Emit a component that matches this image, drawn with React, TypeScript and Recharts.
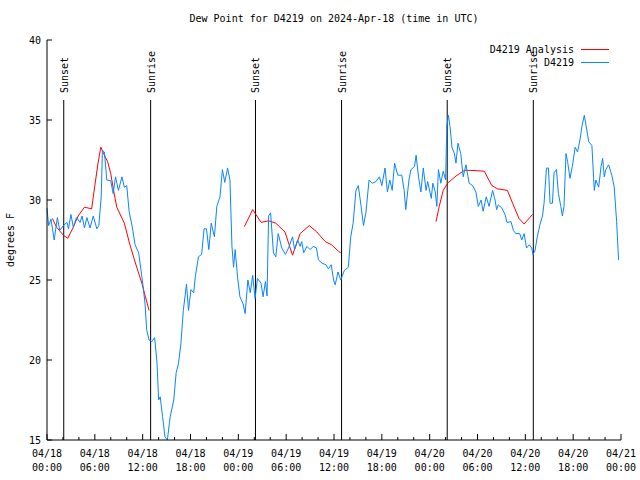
import React from 'react';
import { LineChart, Line, XAxis, YAxis, ReferenceLine } from 'recharts';

const FONT = '"DejaVu Sans Mono", "Liberation Mono", monospace';

// hours after 2024-04-18 00:00 UTC
const obsHours = [
  0, 0.2, 0.5, 0.9, 1.3, 1.6, 2.05, 2.5, 2.7, 3, 3.3, 3.7, 4.15, 4.4, 4.7, 5, 5.4, 5.8, 6.25, 6.5,
  6.8, 6.95, 7.2, 7.5, 8, 8.3, 8.6, 8.96, 9.4, 9.7, 10, 10.3, 10.7, 11.05, 11.5, 11.9, 12.1, 12.3, 12.5, 12.8,
  13.15, 13.5, 13.8, 14, 14.2, 14.5, 14.8, 15.1, 15.45, 15.9, 16.2, 16.5, 16.8, 17.1, 17.5, 17.75, 18.05, 18.4, 18.6, 19,
  19.4, 19.7, 20, 20.3, 20.6, 21, 21.3, 21.7, 22, 22.3, 22.65, 22.95, 23.2, 23.4, 23.6, 23.9, 24.2, 24.6, 24.85, 25.2,
  25.5, 25.8, 26.1, 26.4, 26.85, 27.1, 27.4, 27.6, 27.8, 28.05, 28.4, 28.7, 29, 29.45, 29.9, 30.3, 30.8, 31.05, 31.45, 31.75,
  31.95, 32.2, 32.6, 33, 33.4, 33.8, 34.05, 34.5, 35, 35.3, 35.65, 35.95, 36.15, 36.5, 36.85, 37.3, 37.8, 38.1, 38.4, 38.75,
  39.05, 39.4, 39.7, 40, 40.4, 40.8, 41.25, 41.7, 42, 42.4, 42.7, 43, 43.3, 43.6, 44, 44.5, 44.8, 45, 45.4, 45.65,
  46.1, 46.3, 46.6, 46.9, 47.2, 47.55, 47.75, 48.2, 48.4, 48.7, 48.9, 49.1, 49.4, 49.7, 50, 50.15, 50.35, 50.55, 50.8, 51.1,
  51.3, 51.55, 51.9, 52.2, 52.55, 52.95, 53.4, 53.8, 54.1, 54.45, 54.7, 55.1, 55.45, 55.9, 56.2, 56.4, 56.6, 57.05, 57.45, 57.7,
  58.2, 58.5, 58.8, 59.3, 59.55, 59.85, 60.15, 60.5, 60.8, 60.95, 61.2, 61.5, 61.8, 62.15, 62.35, 62.65, 62.9, 63.1, 63.4, 63.6,
  63.9, 64.15, 64.45, 64.65, 64.85, 65.1, 65.3, 65.6, 65.9, 66.25, 66.55, 66.85, 67.1, 67.4, 67.6, 67.95, 68.35, 68.65, 68.85, 69.2,
  69.5, 69.7, 69.9, 70.1, 70.45, 70.85, 71.15, 71.45, 71.7,
];
const obsDewPoint = [
  29.5, 28.4, 28.8, 27.5, 28.9, 28.1, 28.4, 28.6, 28.2, 29.1, 28.3, 28.9, 28.6, 29.0, 28.25, 28.9, 28.25, 29.0, 28.2, 28.4,
  30.2, 33.1, 33.0, 31.25, 31.2, 30.4, 31.45, 30.6, 31.45, 30.8, 30.9, 29.3, 28.3, 27.2, 26.7, 25.2, 24.4, 23.5, 21.9, 21.25,
  21.15, 21.4, 19.8, 17.5, 17.7, 16.45, 15.2, 15.0, 16.45, 17.5, 19.2, 19.8, 21.05, 23.1, 24.75, 23.1, 24.4, 24.2, 25.2, 26.45,
  26.6, 28.2, 28.2, 26.9, 28.55, 27.7, 29.6, 30.2, 31.9, 31.1, 32.0, 31.25, 27.1, 25.8, 26.9, 25.2, 23.95, 23.5, 22.9, 25.0,
  24.2, 25.3, 23.85, 25.1, 24.8, 23.95, 24.9, 24.0, 29.0, 29.2, 26.7, 26.45, 27.9, 27.0, 26.6, 27.0, 27.7, 26.9, 27.5, 27.1,
  27.4, 26.7, 27.1, 26.9, 27.1, 27.0, 26.25, 26.05, 25.95, 25.7, 25.95, 25.0, 24.7, 25.5, 25.0, 25.6, 25.8, 27.7, 28.55, 30.6,
  30.9, 29.6, 28.4, 29.2, 31.25, 31.05, 31.15, 31.45, 30.9, 32.0, 30.5, 31.25, 30.6, 32.3, 31.55, 31.55, 30.6, 29.4, 31.25, 31.9,
  32.1, 32.8, 31.45, 30.5, 32.0, 30.6, 31.15, 30.1, 31.05, 30.5, 29.6, 31.9, 31.05, 31.8, 31.25, 34.6, 35.3, 34.6, 33.3, 32.9,
  32.3, 33.55, 32.9, 31.45, 32.2, 31.05, 30.9, 30.5, 29.6, 30.0, 29.3, 30.2, 29.6, 30.6, 30.0, 29.4, 29.7, 29.5, 29.1, 28.6,
  28.65, 28.1, 27.9, 27.9, 27.5, 27.9, 27.0, 27.2, 27.0, 26.6, 26.8, 27.7, 28.4, 29.0, 29.8, 32.0, 32.0, 29.8, 29.8, 31.7,
  31.9, 30.4, 29.6, 29.0, 29.6, 32.9, 32.4, 31.35, 32.1, 33.3, 33.0, 33.75, 34.6, 35.3, 34.7, 33.65, 33.4, 30.6, 31.25, 30.8,
  32.1, 32.6, 31.45, 31.9, 32.2, 31.55, 30.8, 28.65, 26.25,
];

// analysis series, null marks a gap between runs
const anaHours = [
  0.67, 1.2, 2.05, 2.6, 3.3, 3.9, 4.7, 5.6, 6.0, 6.4, 6.75, 7.1, 7.6, 8.0, 8.35, 8.75, 9.7, 10.4, 11.25, 11.9, 12.8,
  18,
  24.75, 25.8, 26.85, 27.8, 28.7, 29.85, 30.8, 31.75, 32.9, 33.85, 34.9, 35.7, 36.55, 36.85,
  42,
  48.8, 49.2, 49.7, 50.25, 51.3, 52.35, 53.2, 54.85, 55.8, 56.5, 57.75, 58.4, 59.2, 59.85, 60.9,
];
const anaDewPoint = [
  28.85, 28.3, 27.8, 27.6, 28.3, 29.0, 29.55, 29.45, 30.9, 32.3, 33.3, 32.9, 32.4, 31.65, 30.6, 29.55, 28.55, 27.2, 25.8, 24.8, 23.1,
  null,
  28.33, 29.4, 28.6, 28.7, 28.55, 28.0, 26.55, 27.9, 28.4, 28.0, 27.4, 27.2, 26.8, 26.7,
  null,
  28.65, 29.6, 30.6, 31.05, 31.5, 31.85, 31.85, 31.8, 30.9, 30.7, 30.6, 29.8, 28.85, 28.5, 29.1,
];

const sunsetHours = [2.1, 26.15, 50.2];
const sunriseHours = [13.0, 36.95, 61.0];

const tickHours = [
  0, 2, 4, 6, 8, 10, 12, 14, 16, 18, 20, 22, 24, 26, 28, 30, 32, 34, 36,
  38, 40, 42, 44, 46, 48, 50, 52, 54, 56, 58, 60, 62, 64, 66, 68, 70, 72,
];
const tickDates = ['04/18', '04/18', '04/18', '04/18', '04/19', '04/19', '04/19', '04/19', '04/20', '04/20', '04/20', '04/20', '04/21'];
const tickTimes = ['00:00', '06:00', '12:00', '18:00', '00:00', '06:00', '12:00', '18:00', '00:00', '06:00', '12:00', '18:00', '00:00'];
const yTicks = [15, 20, 25, 30, 35, 40];

const obsData = obsHours.map((h, i) => ({ h, v: obsDewPoint[i] }));
const anaData = anaHours.map((h, i) => ({ h, v: anaDewPoint[i] }));

const BottomTick = ({ x, y, payload }: any) => {
  const h = payload.value;
  const major = h % 6 === 0;
  return (
    <g>
      <line x1={x} x2={x} y1={y} y2={y - (major ? 6 : 3)} stroke="#000" />
      {major && (
        <text x={x} y={y + 17} textAnchor="middle" fontFamily={FONT} fontSize={10} fill="#000">
          <tspan x={x}>{tickDates[h / 6]}</tspan>
          <tspan x={x} dy={14}>{tickTimes[h / 6]}</tspan>
        </text>
      )}
    </g>
  );
};

const TopTick = ({ x, y, payload }: any) => {
  const major = payload.value % 6 === 0;
  return <line x1={x} x2={x} y1={y} y2={y + (major ? 6 : 3)} stroke="#000" />;
};

const LeftTick = ({ x, y, payload }: any) => (
  <g>
    <line x1={x} x2={x + 5} y1={y} y2={y} stroke="#000" />
    <text x={x - 6} y={y + 4} textAnchor="end" fontFamily={FONT} fontSize={10} fill="#000">
      {payload.value}
    </text>
  </g>
);

const RightTick = ({ x, y }: any) => <line x1={x} x2={x - 5} y1={y} y2={y} stroke="#000" />;

const AxisTitle = ({ viewBox }: any) => {
  const cx = viewBox.x + 10;
  const cy = viewBox.y + viewBox.height / 2;
  return (
    <text x={cx} y={cy} transform={`rotate(-90 ${cx} ${cy})`} textAnchor="middle" dominantBaseline="central"
      fontFamily={FONT} fontSize={10} fill="#000">
      degrees F
    </text>
  );
};

const SunLabel = ({ viewBox, text }: any) => {
  const tx = viewBox.x + 4;
  const ty = viewBox.y - 7;
  return (
    <text x={tx} y={ty} transform={`rotate(-90 ${tx} ${ty})`} textAnchor="start"
      fontFamily={FONT} fontSize={10} fill="#000">
      {text}
    </text>
  );
};

const legendRow = (label: string, color: string) => (
  <div style={{ display: 'flex', alignItems: 'center', justifyContent: 'flex-end', height: 13 }}>
    <span>{label}</span>
    <span style={{ display: 'inline-block', width: 28, height: 0, borderTop: `1px solid ${color}`, marginLeft: 7 }} />
  </div>
);

export default function App() {
  return (
    <div style={{ position: 'absolute', left: 0, top: 0, width: 640, height: 480, background: '#fff', fontFamily: FONT }}>
      <div style={{ position: 'absolute', left: 47, width: 574, top: 13, textAlign: 'center', fontSize: 10 }}>
        Dew Point for D4219 on 2024-Apr-18 (time in UTC)
      </div>
      <LineChart width={640} height={480} margin={{ top: 40, right: 19, bottom: 0, left: 0 }}>
        <XAxis dataKey="h" type="number" domain={[0, 72]} ticks={tickHours} interval={0} height={40}
          axisLine={{ stroke: '#000' }} tickLine={false} tickSize={0} tickMargin={0} tick={<BottomTick />} />
        <XAxis xAxisId="top" orientation="top" dataKey="h" type="number" domain={[0, 72]} ticks={tickHours} interval={0}
          height={0} axisLine={{ stroke: '#000' }} tickLine={false} tickSize={0} tickMargin={0} tick={<TopTick />} />
        <YAxis type="number" domain={[15, 40]} ticks={yTicks} interval={0} width={47}
          axisLine={{ stroke: '#000' }} tickLine={false} tickSize={0} tickMargin={0} tick={<LeftTick />}
          label={<AxisTitle />} />
        <YAxis yAxisId="right" orientation="right" type="number" domain={[15, 40]} ticks={yTicks} interval={0} width={0}
          axisLine={{ stroke: '#000' }} tickLine={false} tickSize={0} tickMargin={0} tick={<RightTick />} />
        {sunsetHours.map((h) => (
          <ReferenceLine key={`ss-${h}`} segment={[{ x: h, y: 15 }, { x: h, y: 36.25 }]} stroke="#000"
            label={<SunLabel text="Sunset" />} />
        ))}
        {sunriseHours.map((h) => (
          <ReferenceLine key={`sr-${h}`} segment={[{ x: h, y: 15 }, { x: h, y: 36.25 }]} stroke="#000"
            label={<SunLabel text="Sunrise" />} />
        ))}
        <Line data={anaData} dataKey="v" type="linear" stroke="#ff0000" strokeWidth={1} dot={false}
          isAnimationActive={false} connectNulls={false} />
        <Line data={obsData} dataKey="v" type="linear" stroke="#0a84ff" strokeWidth={1} dot={false}
          isAnimationActive={false} />
      </LineChart>
      <div style={{ position: 'absolute', right: 31, top: 43, fontSize: 10 }}>
        {legendRow('D4219 Analysis', '#ff0000')}
        {legendRow('D4219', '#0a84ff')}
      </div>
    </div>
  );
}
